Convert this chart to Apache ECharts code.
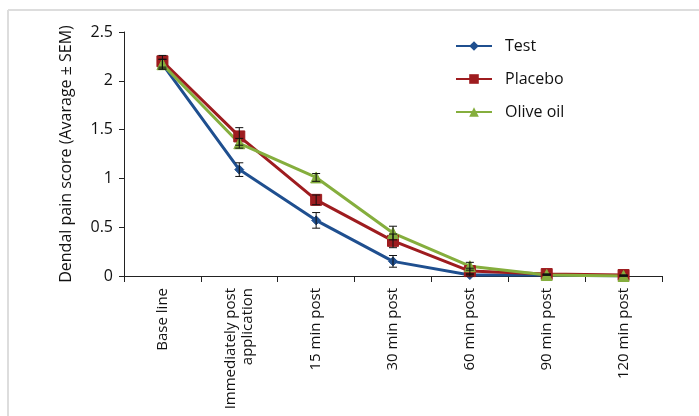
<!DOCTYPE html>
<html>
<head>
<meta charset="utf-8">
<script src="https://cdn.jsdelivr.net/npm/echarts@6/dist/echarts.min.js"></script>
<style>
  html, body { margin: 0; padding: 0; background: #fff; }
  #chart { width: 699px; height: 416px; }
</style>
</head>
<body>
<div id="chart"></div>
<script>
var categories = ['Base line', 'Immediately post\napplication', '15 min post', '30 min post', '60 min post', '90 min post', '120 min post'];

// mean scores
var testValues = [2.17, 1.09, 0.57, 0.15, 0.01, 0.01, 0];
var placeboValues = [2.2, 1.43, 0.78, 0.36, 0.05, 0.02, 0.01];
var oliveValues = [2.17, 1.36, 1.01, 0.44, 0.1, 0.01, 0];

// SEM
var testSem = [0.05, 0.07, 0.08, 0.06, 0.01, 0, 0];
var placeboSem = [0.06, 0.09, 0.05, 0.07, 0.03, 0, 0];
var oliveSem = [0.05, 0.05, 0.04, 0.07, 0.04, 0, 0];

var yTicks = [0, 0.5, 1, 1.5, 2, 2.5];

var chart = echarts.init(document.getElementById('chart'));

// error bar series: a vertical line with caps
function errorSeries(values, sem) {
  return {
    type: 'custom',
    z: 5,
    data: values.map(function (v, i) { return [i, v - sem[i], v + sem[i]]; }),
    renderItem: function (params, api) {
      var lo = api.coord([api.value(0), api.value(1)]);
      var hi = api.coord([api.value(0), api.value(2)]);
      var w = 4;
      var style = { stroke: '#111', lineWidth: 1 };
      return {
        type: 'group',
        children: [
          { type: 'line', shape: { x1: hi[0], y1: hi[1], x2: lo[0], y2: lo[1] }, style: style },
          { type: 'line', shape: { x1: hi[0] - w, y1: hi[1], x2: hi[0] + w, y2: hi[1] }, style: style },
          { type: 'line', shape: { x1: lo[0] - w, y1: lo[1], x2: lo[0] + w, y2: lo[1] }, style: style }
        ]
      };
    },
    silent: true
  };
}

function lineSeries(name, values, color, symbol, size) {
  return {
    name: name,
    type: 'line',
    data: values,
    symbol: symbol,
    symbolSize: size,
    z: 3,
    lineStyle: { color: color, width: 3 },
    itemStyle: { color: color, borderColor: color }
  };
}

chart.setOption({
  animation: false,
  textStyle: { fontFamily: 'Open Sans, sans-serif' },
  graphic: [
    { type: 'line', shape: { x1: 8, y1: 10, x2: 699, y2: 10 }, style: { stroke: '#ddd', lineWidth: 2 } },
    { type: 'line', shape: { x1: 8, y1: 10, x2: 8, y2: 416 }, style: { stroke: '#ddd', lineWidth: 2 } }
  ],
  legend: {
    orient: 'vertical',
    left: 455,
    top: 38,
    padding: 0,
    itemWidth: 36,
    itemHeight: 12,
    itemGap: 17,
    textStyle: { fontSize: 16, color: '#111', padding: [0, 0, 0, 8] },
    data: ['Test', 'Placebo', 'Olive oil']
  },
  grid: { left: 124, right: 37, top: 32, bottom: 140 },
  xAxis: {
    type: 'category',
    data: categories,
    boundaryGap: true,
    axisLine: { lineStyle: { color: '#222', width: 1 } },
    axisTick: { show: true, length: 6, inside: false, lineStyle: { color: '#222' } },
    axisLabel: {
      rotate: 90,
      interval: 0,
      fontSize: 15,
      color: '#111',
      margin: 12,
      lineHeight: 17
    }
  },
  yAxis: {
    type: 'value',
    min: 0,
    max: 2.5,
    interval: 0.5,
    name: 'Dendal pain score (Avarage \u00b1 SEM)',
    nameLocation: 'middle',
    nameGap: 50,
    nameTextStyle: { fontSize: 16, color: '#111' },
    splitLine: { show: false },
    axisLine: { show: true, lineStyle: { color: '#222' } },
    axisTick: { show: true, length: 5, lineStyle: { color: '#222' } },
    axisLabel: {
      fontSize: 16,
      color: '#111',
      margin: 11,
      formatter: function (v) { return yTicks.indexOf(v) >= 0 ? String(v) : ''; }
    }
  },
  series: [
    lineSeries('Test', testValues, '#1f4f8f', 'diamond', 9),
    lineSeries('Placebo', placeboValues, '#9e1c1f', 'rect', 11),
    lineSeries('Olive oil', oliveValues, '#85ae3d', 'triangle', 11),
    errorSeries(testValues, testSem),
    errorSeries(placeboValues, placeboSem),
    errorSeries(oliveValues, oliveSem)
  ]
});
</script>
</body>
</html>
